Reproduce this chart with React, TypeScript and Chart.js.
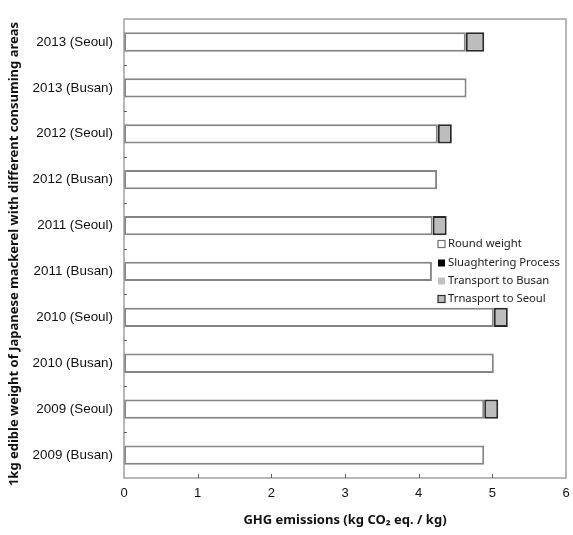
import React, { useEffect, useRef } from "react";
import { Chart, registerables } from "chart.js";

Chart.register(...registerables);

const categories = [
  "2013 (Seoul)",
  "2013 (Busan)",
  "2012 (Seoul)",
  "2012 (Busan)",
  "2011 (Seoul)",
  "2011 (Busan)",
  "2010 (Seoul)",
  "2010 (Busan)",
  "2009 (Seoul)",
  "2009 (Busan)",
];

const roundWeight = [4.64, 4.65, 4.26, 4.25, 4.19, 4.18, 5.02, 5.02, 4.89, 4.89];
const slaughtering = [0, 0, 0, 0, 0, 0, 0, 0, 0, 0];
const transportBusan = [0, 0, 0, 0, 0, 0, 0, 0, 0, 0];
const transportSeoul = [0.25, null, 0.19, null, 0.19, null, 0.19, null, 0.19, null];

const xTicks = [0, 1, 2, 3, 4, 5, 6];

const yTitle = "1kg edible weight of Japanese mackerel with different consuming areas";
const xTitle = "GHG emissions (kg CO\u2082 eq. / kg)";

const CHART_LEFT = 124;
const CHART_TOP = 19;
const CHART_BOTTOM_H = 57;

const framePlugin = {
  id: "frameAndTicks",
  afterDraw(chart: any) {
    const { ctx, chartArea } = chart;
    const y = chart.scales.y;
    ctx.save();
    ctx.strokeStyle = "#a0a0a0";
    ctx.lineWidth = 1.5;
    ctx.strokeRect(chartArea.left, chartArea.top, chartArea.right - chartArea.left, chartArea.bottom - chartArea.top);
    ctx.strokeStyle = "#606060";
    ctx.lineWidth = 1;
    const n = chart.data.labels.length;
    for (let i = 0; i < n - 1; i++) {
      const p = (y.getPixelForValue(i) + y.getPixelForValue(i + 1)) / 2;
      ctx.beginPath();
      ctx.moveTo(chartArea.left, Math.round(p) + 0.5);
      ctx.lineTo(chartArea.left + 3, Math.round(p) + 0.5);
      ctx.stroke();
    }
    const x = chart.scales.x;
    xTicks.slice(1, -1).forEach((v) => {
      const px = Math.round(x.getPixelForValue(v)) + 0.5;
      ctx.beginPath();
      ctx.moveTo(px, chartArea.bottom);
      ctx.lineTo(px, chartArea.bottom - 4);
      ctx.stroke();
    });
    // y title
    ctx.save();
    ctx.translate(14.5, (chartArea.top + chartArea.bottom) / 2 + 5.5);
    ctx.rotate(-Math.PI / 2);
    ctx.font = "bold 13px 'Noto Sans', sans-serif";
    ctx.fillStyle = "#111";
    ctx.textAlign = "center";
    ctx.textBaseline = "middle";
    ctx.fillText(yTitle, 0, 0);
    ctx.restore();
    // legend
    const lx = 438;
    const rows = [244, 263, 281, 299];
    ctx.font = "11.3px 'Noto Sans', sans-serif";
    ctx.textBaseline = "middle";
    ctx.textAlign = "left";
    chart.data.datasets.forEach((ds: any, i: number) => {
      const ry = rows[i];
      ctx.fillStyle = ds.legendFill;
      ctx.fillRect(lx, ry - 3.5, 7, 7);
      if (ds.legendBorder) {
        ctx.strokeStyle = ds.legendBorder;
        ctx.lineWidth = 1.2;
        ctx.strokeRect(lx, ry - 3.5, 7, 7);
      }
      ctx.fillStyle = "#222";
      ctx.fillText(ds.label, lx + 10, ry);
    });
    ctx.restore();
  },
};

export default function App() {
  const ref = useRef<HTMLCanvasElement | null>(null);
  useEffect(() => {
    if (!ref.current) return;
    const chart = new Chart(ref.current, {
      type: "bar",
      data: {
        labels: categories,
        datasets: [
          {
            label: "Round weight",
            data: roundWeight,
            backgroundColor: "#ffffff",
            borderColor: "#858585",
            borderWidth: 2,
            borderSkipped: false,
            legendFill: "#ffffff",
            legendBorder: "#707070",
          } as any,
          {
            label: "Sluaghtering Process",
            data: slaughtering,
            backgroundColor: "#000000",
            borderWidth: 0,
            legendFill: "#000000",
          } as any,
          {
            label: "Transport to Busan",
            data: transportBusan,
            backgroundColor: "#c0c0c0",
            borderWidth: 0,
            legendFill: "#c0c0c0",
          } as any,
          {
            label: "Trnasport to Seoul",
            data: transportSeoul,
            backgroundColor: "#bdbdbd",
            borderColor: "#2a2a2a",
            borderWidth: 2,
            borderSkipped: false,
            legendFill: "#bdbdbd",
            legendBorder: "#2a2a2a",
          } as any,
        ],
      },
      options: {
        indexAxis: "y",
        animation: false,
        responsive: true,
        maintainAspectRatio: false,
        layout: { padding: { top: CHART_TOP, right: 0, left: 0, bottom: 0 } },
        plugins: {
          legend: { display: false },
          tooltip: { enabled: false },
        },
        datasets: {
          bar: { categoryPercentage: 1, barPercentage: 0.42 },
        },
        scales: {
          x: {
            stacked: true,
            min: 0,
            max: 6,
            afterFit(scale: any) {
              scale.height = CHART_BOTTOM_H;
              scale.paddingRight = 7;
              scale.paddingLeft = 0;
            },
            afterBuildTicks(scale: any) {
              scale.ticks = xTicks.map((v) => ({ value: v }));
            },
            grid: { display: false, drawTicks: false },
            border: { display: false },
            ticks: {
              color: "#111",
              font: { family: "'Liberation Sans', Arial, sans-serif", size: 13 },
              padding: 8,
              maxRotation: 0,
            },
            title: {
              display: true,
              text: xTitle,
              color: "#111",
              font: { family: "'Noto Sans', sans-serif", size: 13, weight: "bold" },
              padding: { top: 4, bottom: 7 },
            },
          },
          y: {
            stacked: true,
            afterFit(scale: any) {
              scale.width = CHART_LEFT;
            },
            grid: { display: false, drawTicks: false },
            border: { display: false },
            ticks: {
              color: "#111",
              font: { family: "'Liberation Sans', Arial, sans-serif", size: 13.4 },
              padding: 11,
            },
            title: { display: false },
          },
        },
      } as any,
      plugins: [framePlugin],
    });
    return () => chart.destroy();
  }, []);
  return (
    <div style={{ position: "fixed", left: 0, top: 0, width: 573, height: 535, background: "#fff" }}>
      <canvas ref={ref} />
    </div>
  );
}
